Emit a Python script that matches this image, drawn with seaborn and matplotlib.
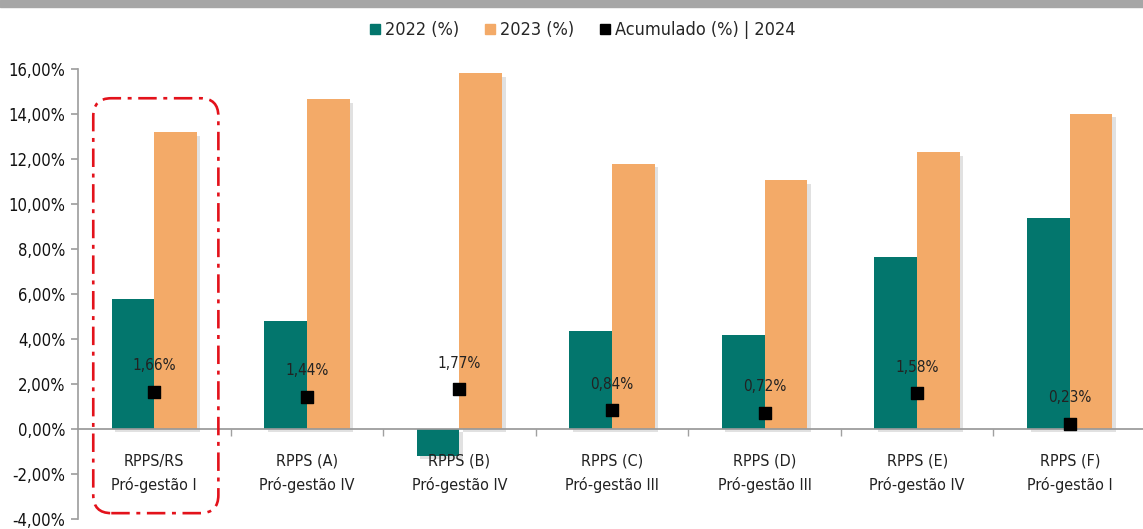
import numpy as np
import pandas as pd
import matplotlib.pyplot as plt
import matplotlib.ticker as mticker
import matplotlib.patheffects as pe
from matplotlib.patches import FancyBboxPatch, Rectangle
from matplotlib.lines import Line2D
import seaborn as sns

# data
categorias = ["RPPS/RS\nPró-gestão I", "RPPS (A)\nPró-gestão IV", "RPPS (B)\nPró-gestão IV",
              "RPPS (C)\nPró-gestão III", "RPPS (D)\nPró-gestão III", "RPPS (E)\nPró-gestão IV",
              "RPPS (F)\nPró-gestão I"]
ret_2022 = [5.79, 4.81, -1.20, 4.37, 4.19, 7.66, 9.40]
ret_2023 = [13.19, 14.66, 15.82, 11.80, 11.05, 12.30, 14.00]
acum_2024 = [1.66, 1.44, 1.77, 0.84, 0.72, 1.58, 0.23]
series = ["2022 (%)", "2023 (%)"]

cor_2022 = "#03766d"
cor_2023 = "#f3aa68"

sns.set_theme(style="white")
plt.rcParams['font.family'] = ['DejaVu Sans']
plt.rcParams['font.stretch'] = 'condensed'

df = pd.DataFrame({
    "cat": categorias * 2,
    "serie": [series[0]] * len(categorias) + [series[1]] * len(categorias),
    "valor": ret_2022 + ret_2023,
})

fig = plt.figure(figsize=(11.43, 5.29), dpi=100)
ax = fig.add_axes([78 / 1143, 10 / 529, 1065 / 1143, 450 / 529])

sns.barplot(data=df, x="cat", y="valor", hue="serie", order=categorias,
            palette=[cor_2022, cor_2023], width=0.56, ax=ax, legend=False,
            saturation=1, linewidth=0, zorder=2)
for bar in ax.patches:
    bar.set_path_effects([pe.SimplePatchShadow(offset=(2.5, -2.5), shadow_rgbFace="#c4c4c4", alpha=0.5),
                          pe.Normal()])

x = np.arange(len(categorias))
ax.scatter(x, acum_2024, marker="s", s=64, color="black", zorder=4)
for xi, v in zip(x, acum_2024):
    ax.text(xi, v + 1.15, f"{v:.2f}%".replace(".", ","), ha="center", va="center",
            fontsize=11, color="#222222", zorder=5)

ax.set_xlim(-0.5, 6.48)
ax.set_ylim(-4, 16)
ax.set_yticks(np.arange(-4, 17, 2))
ax.yaxis.set_major_formatter(mticker.FuncFormatter(lambda v, p: f"{v:.2f}%".replace(".", ",")))
ax.tick_params(axis="y", labelsize=12, length=5, color="#a0a0a0", left=True, pad=4,
               labelcolor="#111111")

# category names as text under the zero line
ax.set_xticks([])
ax.set_xticks(np.arange(0.5, 6.5, 1), minor=True)
ax.tick_params(axis="x", which="minor", length=5, color="#a0a0a0", bottom=True, direction="out")
for xi, nome in zip(x, categorias):
    ax.text(xi, -1.98, nome, ha="center", va="center", fontsize=11.5, color="#222222",
            linespacing=1.65, zorder=5)

ax.set_xlabel("")
ax.set_ylabel("")
for s in ["top", "right"]:
    ax.spines[s].set_visible(False)
ax.spines["bottom"].set_position(("data", 0))
ax.spines["bottom"].set_color("#999999")
ax.spines["left"].set_color("#a0a0a0")
ax.spines["bottom"].set_zorder(3)

# red dash-dot rounded frame around the first group
xu = 1 / 152.5
yu = 1 / 22.44
frame = FancyBboxPatch((-0.40, -3.74), 0.82, 18.44,
                       boxstyle=f"round,pad=0,rounding_size={18 * xu}",
                       mutation_aspect=yu / xu, fill=False, edgecolor="#e3121b",
                       linewidth=1.9, linestyle=(0, (7, 2.5, 1.5, 2.5)), zorder=6,
                       clip_on=False)
ax.add_patch(frame)

# legend
handles = [Line2D([], [], marker="s", linestyle="", markersize=6.5, color=cor_2022),
           Line2D([], [], marker="s", linestyle="", markersize=6.5, color=cor_2023),
           Line2D([], [], marker="s", linestyle="", markersize=7.5, color="black")]
fig.legend(handles, ["2022 (%)", "2023 (%)", "Acumulado (%) | 2024"], loc="center",
           bbox_to_anchor=(0.509, 1 - 30 / 529), ncol=3, frameon=False, fontsize=13,
           handletextpad=0.15, columnspacing=1.3, handlelength=0.8)

# grey band at the top
fig.patches.append(Rectangle((0, 1 - 7 / 529), 1, 7 / 529, transform=fig.transFigure,
                             color="#a6a6a6", zorder=0))

fig.savefig("out.png", dpi=100)
